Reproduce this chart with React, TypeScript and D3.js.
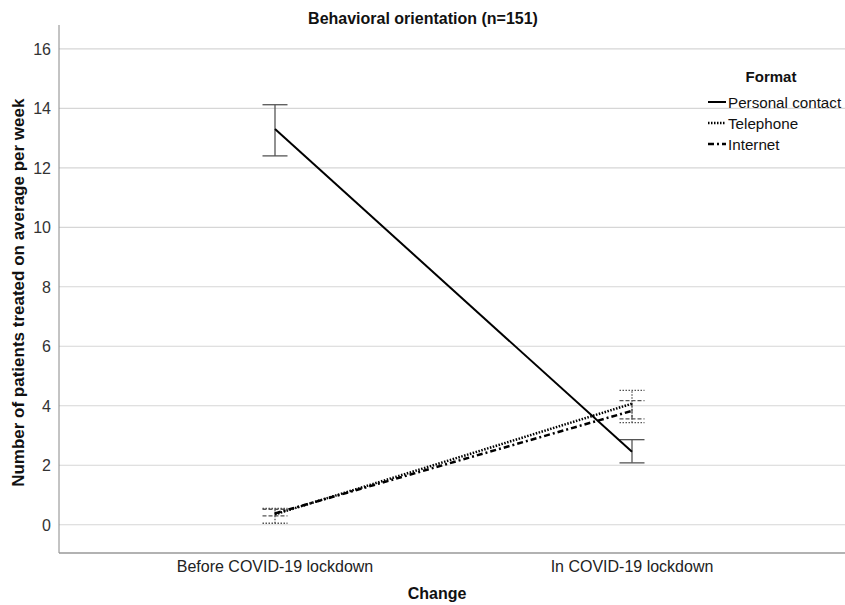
import * as d3 from "d3";

const categories = ["Before COVID-19 lockdown", "In COVID-19 lockdown"];
const formats = ["Personal contact", "Telephone", "Internet"];
// mean, lower, upper per category
const personalMean = [13.3, 2.45];
const personalLow = [12.4, 2.08];
const personalHigh = [14.12, 2.86];
const phoneMean = [0.35, 4.07];
const phoneLow = [0.05, 3.43];
const phoneHigh = [0.55, 4.52];
const webMean = [0.38, 3.83];
const webLow = [0.3, 3.56];
const webHigh = [0.52, 4.17];
const yTicks = [0, 2, 4, 6, 8, 10, 12, 14, 16];

const W = 845;
const H = 605;
const font = "'Liberation Sans', Arial, sans-serif";

const series = [
  { name: formats[0], mean: personalMean, lo: personalLow, hi: personalHigh, dash: "none", width: 2, barDash: "none" },
  { name: formats[1], mean: phoneMean, lo: phoneLow, hi: phoneHigh, dash: "1.5,1.5", width: 2.5, barDash: "1.5,1.5" },
  { name: formats[2], mean: webMean, lo: webLow, hi: webHigh, dash: "6,3,2,3", width: 2.5, barDash: "4,2" },
];

export default function App() {
  const left = 59;
  const y = d3.scaleLinear().domain([-0.95, 16.8]).range([553, 25]);
  const x = d3.scaleBand().domain(categories).range([96.5, 810.5]).padding(0);
  const cx = (c: string) => (x(c) ?? 0) + x.bandwidth() / 2;

  const line = d3
    .line<number>()
    .x((_, i) => cx(categories[i]))
    .y((d) => y(d));

  return (
    <svg
      width={W}
      height={H}
      style={{ position: "absolute", left: 0, top: 0, display: "block", background: "#fff" }}
      fontFamily={font}
    >
      <text x={423} y={24} textAnchor="middle" fontSize={16} fontWeight="bold" fill="#111">
        Behavioral orientation (n=151)
      </text>

      {/* grid + y ticks */}
      {yTicks.map((t) => (
        <g key={t}>
          <line x1={left} x2={W} y1={y(t)} y2={y(t)} stroke="#d6d6d6" strokeWidth={1.2} />
          <text x={51} y={y(t) + 6} textAnchor="end" fontSize={16} fill="#333">
            {t}
          </text>
        </g>
      ))}
      <line x1={left} x2={left} y1={25} y2={553} stroke="#888" />
      <line x1={left} x2={W} y1={553} y2={553} stroke="#999" strokeWidth={1.5} />

      {categories.map((c) => (
        <text key={c} x={cx(c)} y={572} textAnchor="middle" fontSize={16} fill="#222">
          {c}
        </text>
      ))}
      <text x={437} y={599} textAnchor="middle" fontSize={16} fontWeight="bold" fill="#111">
        Change
      </text>
      <text
        transform={`translate(24,${y(7.8)}) rotate(-90)`}
        textAnchor="middle"
        fontSize={17}
        fontWeight="bold"
        fill="#111"
      >
        Number of patients treated on average per week
      </text>

      {/* error bars */}
      {series.map((s) =>
        categories.map((c, i) => (
          <g key={s.name + c} stroke="#555" strokeWidth={1.3} strokeDasharray={s.barDash}>
            <line x1={cx(c)} x2={cx(c)} y1={y(s.lo[i])} y2={y(s.hi[i])} />
            <line x1={cx(c) - 12.5} x2={cx(c) + 12.5} y1={y(s.lo[i])} y2={y(s.lo[i])} />
            <line x1={cx(c) - 12.5} x2={cx(c) + 12.5} y1={y(s.hi[i])} y2={y(s.hi[i])} />
          </g>
        ))
      )}

      {/* lines */}
      {series.map((s) => (
        <path
          key={s.name}
          d={line(s.mean) ?? ""}
          fill="none"
          stroke="#000"
          strokeWidth={s.width}
          strokeDasharray={s.dash}
        />
      ))}

      {/* legend */}
      <text x={771} y={82} textAnchor="middle" fontSize={15} fontWeight="bold" fill="#111">
        Format
      </text>
      {series.map((s, i) => (
        <g key={s.name} transform={`translate(708,${102 + i * 21})`}>
          <line x1={0} x2={18} y1={0} y2={0} stroke="#000" strokeWidth={s.width} strokeDasharray={s.dash} />
          <text x={20} y={5.5} fontSize={15.2} fill="#111">
            {s.name}
          </text>
        </g>
      ))}
    </svg>
  );
}
